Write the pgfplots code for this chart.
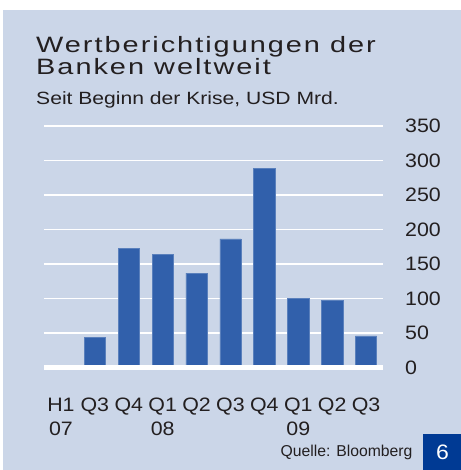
\documentclass[border=0pt]{standalone}
\usepackage{pgfplots}
\pgfplotsset{compat=1.18}
\usepackage{fontspec}
\setmainfont{Liberation Sans}
\newfontfamily\titlefont[LetterSpace=9,FakeStretch=1.3]{Liberation Sans}
\newfontfamily\sixfont[FakeStretch=1.1]{Liberation Sans}
\newfontfamily\subfont[FakeStretch=1.19]{Liberation Sans}
\newfontfamily\tickfont[FakeStretch=1.1]{Liberation Sans}
\definecolor{bgcol}{HTML}{CBD6E8}
\definecolor{barcol}{HTML}{3160AB}
\definecolor{boxcol}{HTML}{003A94}
\definecolor{txtcol}{HTML}{231F20}
\pgfplotstableread{
x y
0 0
1 43.5
2 172.5
3 164
4 137
5 186.5
6 288.5
7 100
8 97
9 46
}\datatable
\begin{document}
\begin{tikzpicture}[x=1bp,y=1bp]
\fill[white] (0,0) rectangle (461,470);
\fill[bgcol] (3,0) rectangle (461,460);
\fill[boxcol] (423,0) rectangle (461,36);
\node[text=white,font=\sixfont\fontsize{21}{21}\selectfont,inner sep=0] at (442.5,18) {6};
\node[anchor=base west,inner sep=0,align=left,text=txtcol,font=\titlefont\fontsize{22.3}{20.3}\selectfont] at (36,395.6) {Wertberichtigungen der\\Banken weltweit};
\node[anchor=base west,inner sep=0,text=txtcol,font=\subfont\fontsize{17.8}{18}\selectfont] at (36,365) {Seit Beginn der Krise, USD Mrd.};
\node[anchor=base east,inner sep=0,text=txtcol,font=\fontsize{15.8}{16}\selectfont] at (412.7,13) {Quelle: Bloomberg};
\begin{axis}[
  at={(44bp,102.4bp)}, anchor=south west,
  scale only axis, width=339bp, height=241.6bp,
  xmin=-0.5, xmax=9.5, ymin=0, ymax=350,
  axis line style={draw=none},
  major tick length=0pt,
  ytick={0,50,...,350},
  ymajorgrids, grid style={white,line width=1.6bp},
  yticklabel pos=right,
  /pgf/number format/assume math mode=true,
  yticklabel style={anchor=west,inner sep=0pt,xshift=22bp,text=txtcol,font=\tickfont\fontsize{19.5}{20}\selectfont},
  xtick=data,
  xticklabels={{H1\\07},Q3,Q4,{Q1\\08},Q2,Q3,Q4,{Q1\\09},Q2,Q3},
  xticklabel style={anchor=north,inner sep=0pt,yshift=-30.4bp,align=center,text=txtcol,font=\tickfont\fontsize{19.5}{24}\selectfont},
  clip=false,
]
\addplot[ybar,bar width=21.3bp,fill=barcol,draw=barcol!80!white,line width=0.5bp] table[x=x,y=y] {\datatable};
\draw[white,line width=4.6bp] (axis cs:-0.5,0) -- (axis cs:9.5,0);
\end{axis}
\end{tikzpicture}
\end{document}
